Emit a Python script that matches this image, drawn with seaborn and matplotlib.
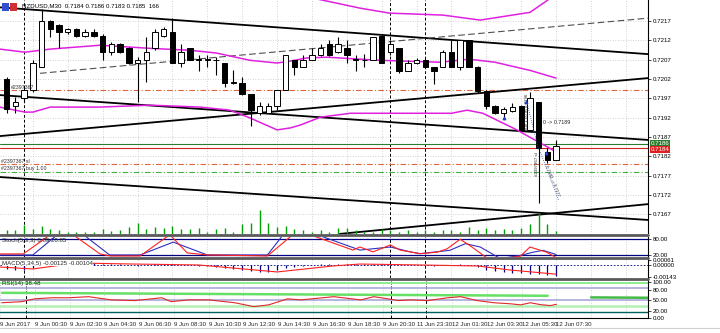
import matplotlib
matplotlib.use("Agg")
import matplotlib.pyplot as plt
import matplotlib.transforms as mtransforms
from matplotlib.lines import Line2D
from matplotlib.patches import Rectangle
import numpy as np
import seaborn as sns

sns.set_style("white")
plt.rcParams['font.family'] = ['Liberation Sans', 'DejaVu Sans']

# -------------------------------------------------------
# values (bar index 0 = 8 Jun 23:00)
opens = [0.72019, 0.71949, 0.71970, 0.71991, 0.72051, 0.72170, 0.72159, 0.72140, 0.72150, 0.72130,
         0.72140, 0.72130, 0.72090, 0.72109, 0.72099, 0.72060, 0.72070, 0.72099, 0.72130, 0.72140,
         0.72060, 0.72099, 0.72071, 0.72070, 0.72068, 0.72060, 0.72010, 0.72010, 0.71980, 0.71931,
         0.71931, 0.71949, 0.71991, 0.72070, 0.72051, 0.72070, 0.72081, 0.72109, 0.72090, 0.72099,
         0.72071, 0.72070, 0.72070, 0.72130, 0.72090, 0.72099, 0.72041, 0.72060, 0.72070, 0.72051,
         0.72051, 0.72090, 0.72051, 0.72120, 0.72051, 0.71989, 0.71950, 0.71931, 0.71937, 0.71950,
         0.71888, 0.71961, 0.71831, 0.71810]
highs = [0.72025, 0.71974, 0.72001, 0.72068, 0.72200, 0.72172, 0.72163, 0.72152, 0.72152, 0.72150,
         0.72150, 0.72135, 0.72116, 0.72113, 0.72103, 0.72077, 0.72129, 0.72150, 0.72154, 0.72177,
         0.72109, 0.72100, 0.72081, 0.72081, 0.72077, 0.72061, 0.72043, 0.72025, 0.71981, 0.71961,
         0.71958, 0.71991, 0.72081, 0.72070, 0.72081, 0.72099, 0.72110, 0.72120, 0.72129, 0.72120,
         0.72081, 0.72084, 0.72129, 0.72133, 0.72120, 0.72099, 0.72068, 0.72074, 0.72074, 0.72051,
         0.72094, 0.72120, 0.72120, 0.72120, 0.72053, 0.71991, 0.71952, 0.71948, 0.71957, 0.71952,
         0.71986, 0.71961, 0.71840, 0.71862]
lows = [0.71931, 0.71931, 0.71960, 0.71986, 0.72050, 0.72129, 0.72099, 0.72137, 0.72129, 0.72127,
        0.72127, 0.72068, 0.72081, 0.72087, 0.72058, 0.71961, 0.72012, 0.72094, 0.72128, 0.72060,
        0.72051, 0.72068, 0.72041, 0.72051, 0.72030, 0.72000, 0.72008, 0.71978, 0.71898, 0.71926,
        0.71931, 0.71939, 0.71991, 0.72030, 0.72050, 0.72068, 0.72079, 0.72079, 0.72087, 0.72060,
        0.72041, 0.72051, 0.72068, 0.72060, 0.72081, 0.72035, 0.72040, 0.72058, 0.72050, 0.72008,
        0.72050, 0.72050, 0.72043, 0.72050, 0.71983, 0.71942, 0.71929, 0.71922, 0.71935, 0.71885,
        0.71885, 0.71698, 0.71802, 0.71810]
closes = [0.71941, 0.71961, 0.71991, 0.72060, 0.72170, 0.72150, 0.72140, 0.72150, 0.72130, 0.72140,
          0.72130, 0.72090, 0.72109, 0.72090, 0.72060, 0.72070, 0.72090, 0.72140, 0.72150, 0.72060,
          0.72090, 0.72070, 0.72069, 0.72071, 0.72069, 0.72010, 0.72011, 0.71980, 0.71939, 0.71949,
          0.71949, 0.71991, 0.72081, 0.72051, 0.72070, 0.72081, 0.72099, 0.72081, 0.72109, 0.72081,
          0.72069, 0.72069, 0.72129, 0.72060, 0.72109, 0.72041, 0.72060, 0.72070, 0.72051, 0.72041,
          0.72090, 0.72051, 0.72120, 0.72051, 0.71989, 0.71950, 0.71931, 0.71941, 0.71948, 0.71888,
          0.71970, 0.71840, 0.71810, 0.71846]
volumes = [230, 230, 560, 300, 495, 300, 230, 130, 130, 130, 100, 300, 165, 230, 460, 725, 265, 460,
           365, 495, 300, 265, 365, 130, 265, 365, 130, 625, 660, 1520, 660, 460, 495, 265, 200, 130,
           200, 130, 395, 395, 200, 130, 130, 265, 200, 130, 200, 130, 200, 130, 200, 230, 130, 460,
           230, 330, 230, 265, 230, 330, 595, 1320, 595, 166]

# bollinger bands (bar index, price)
bb_mid_x = [-0.8, 2.1, 5.0, 10.7, 16.4, 21.0, 24.0, 27.9, 31.0, 32.5, 34.4, 36.7, 42.8, 49.7, 53.0, 56.0, 60.0, 63.0]
bb_mid = [0.72097, 0.72089, 0.72097, 0.72107, 0.72099, 0.72094, 0.72087, 0.72068, 0.72061, 0.72066,
          0.72074, 0.72076, 0.72068, 0.72063, 0.72071, 0.72063, 0.72042, 0.72022]
bb_low_x = [-0.8, 2.1, 3.0, 5.0, 10.7, 16.4, 22.2, 25.6, 27.9, 31.0, 32.5, 33.6, 36.0, 39.4, 51.0, 52.8,
            54.6, 58.5, 60.0, 62.0, 63.0]
bb_low = [0.71947, 0.71934, 0.71934, 0.71947, 0.71947, 0.71952, 0.71947, 0.71939, 0.71919, 0.71888,
          0.71893, 0.71900, 0.71921, 0.71931, 0.71931, 0.71939, 0.71931, 0.71888, 0.71869, 0.71844, 0.71831]
bb_up_x = [33.6, 37.4, 40.5, 43.9, 50.0, 54.3, 60.0, 62.0, 63.0]
bb_up = [0.72236, 0.72218, 0.72203, 0.72190, 0.72185, 0.72172, 0.72192, 0.72223, 0.72244]

# hand drawn trend lines (bar0, price0, bar1, price1)
trend_lines = [(-0.77, 0.72205, 73.54, 0.72084), (-0.77, 0.71872, 73.54, 0.72022),
               (-0.77, 0.71978, 73.54, 0.71862), (-0.77, 0.71766, 73.54, 0.71655),
               (38.2, 0.71619, 73.54, 0.71696)]
dashed_line = (2.67, 0.72032, 73.54, 0.72177)

# order lines
tp_level = 0.71991
sl_level = 0.71800
buy_level = 0.71780
ask_price = 0.71852
bid_price = 0.71840

# stochastic (5,3,3)
stoch_main_x = [-0.8, 1.9, 5.0, 7.6, 10.7, 11.9, 15.3, 18.7, 20.7, 23.0, 29.9, 32.8, 34.8, 37.4, 39.7, 40.5,
                42.0, 44.0, 45.1, 47.4, 49.4, 50.5, 52.0, 53.1, 55.0, 56.9, 58.9, 60.0, 61.9, 63.0]
stoch_main = [23, 23, 98, 98, 23, 15, 15, 98, 27, 19, 15, 98, 98, 66, 38, 50, 31, 58, 38, 24, 30, 43, 80,
              56, 9, 5, 14, 50, 30, 8.89]
stoch_sig_x = [-0.8, 3.0, 5.8, 8.8, 11.8, 15.3, 19.1, 23.0, 29.9, 31.7, 35.6, 40.5, 44.0, 46.3, 47.4,
               50.8, 52.6, 54.3, 56.6, 58.9, 60.4, 61.5, 63.0]
stoch_sig = [19, 19, 98, 98, 19, 19, 69, 19, 19, 98, 98, 38, 50, 31, 24, 37, 63, 50, 5, 17, 30, 37, 20.85]

# MACD(5,34,5): histogram per bar, signal line points
macd_main = [-0.0004, -0.0005, -0.0005, -0.0003, 0.0001, 0.0003, 0.0004, 0.0004, 0.0004, 0.0003,
             0.0003, 0.0002, 0.0001, 0.0001, 0.0000, -0.0001, 0.0000, 0.0001, 0.0001, 0.0001,
             0.0000, 0.0000, -0.0001, -0.0001, -0.0002, -0.0003, -0.0004, -0.0005, -0.0007, -0.0008,
             -0.0008, -0.0006, -0.0003, -0.0002, -0.0001, 0.0000, 0.0001, 0.0002, 0.0002, 0.0002,
             0.0001, 0.0001, 0.0002, 0.0001, 0.0001, 0.0000, 0.0000, 0.0000, 0.0000, -0.0001,
             0.0000, 0.0000, 0.0001, 0.0000, -0.0002, -0.0005, -0.0007, -0.0008, -0.0009, -0.0009,
             -0.0010, -0.0010, -0.0011, -0.00125]
macd_sig_x = [-0.8, 3.0, 8.0, 14.5, 22.0, 31.0, 37.4, 40.5, 47.4, 54.0, 57.7, 63.0]
macd_sig = [-0.0002, -0.00043, 0.00027, 0.00015, 0.00004, -0.00078, -0.00008, 0.00015, 0.00004,
            -0.00008, -0.00055, -0.00104]

# RSI(14)
rsi_x = [-0.8, 1.5, 3.0, 5.0, 6.9, 9.2, 11.8, 14.5, 17.6, 18.7, 20.7, 23.0, 26.0, 28.2, 29.9, 32.1, 33.6,
         37.4, 40.5, 42.0, 43.6, 44.8, 46.3, 48.2, 50.5, 52.0, 53.9, 55.8, 57.7, 58.9, 60.0, 61.2, 62.3, 63.0]
rsi = [43, 46, 54, 57, 57, 60, 51, 49, 57, 46, 51, 51, 43, 32, 37, 54, 51, 60, 51, 60, 54, 49, 51, 49, 57,
       60, 49, 43, 40, 37, 43, 37.5, 35, 38.48]

# time axis labels
tick_bars = [-1, 3, 7, 11, 15, 19, 23, 27, 31, 35, 39, 43, 47, 51, 55, 59, 63]
tick_labels = ['9 Jun 2017', '9 Jun 00:30', '9 Jun 02:30', '9 Jun 04:30', '9 Jun 06:30', '9 Jun 08:30',
               '9 Jun 10:30', '9 Jun 12:30', '9 Jun 14:30', '9 Jun 16:30', '9 Jun 18:30', '9 Jun 20:30',
               '11 Jun 23:30', '12 Jun 01:30', '12 Jun 03:30', '12 Jun 05:30', '12 Jun 07:30']
separator_bars = [2, 44, 48]
price_ticks = [0.7167, 0.7172, 0.7177, 0.7182, 0.7187, 0.7192, 0.7197, 0.7202, 0.7207, 0.7212, 0.7217]

# -------------------------------------------------------
W, H = 720, 333
fig = plt.figure(figsize=(W / 100, H / 100), dpi=100)
fig.patch.set_facecolor('white')

XL = (-0.77, 73.54)
FS = 4.4
grid_kw = dict(color='#c4c4c4', lw=0.6, ls=(0, (1, 2)), zorder=0)


def make_ax(top, bottom):
    a = fig.add_axes([0, 1 - bottom / H, 648 / W, (bottom - top) / H])
    a.set_xlim(*XL)
    for s in ['left', 'top', 'bottom']:
        a.spines[s].set_visible(False)
    a.spines['right'].set_color('black')
    a.spines['right'].set_linewidth(0.8)
    a.set_xticks([])
    for b in range(-1, 75, 4):
        a.axvline(b, **grid_kw)
    for b in separator_bars:
        a.axvline(b, color='black', lw=0.7, ls=(0, (3, 2)), zorder=1)
    return a


def right_ticks(a):
    a.yaxis.tick_right()
    a.tick_params(axis='y', labelsize=FS, length=2, width=0.5, pad=1.5, colors='black')


ax = make_ax(0, 233.5)
ax_st = make_ax(236.5, 257)
ax_md = make_ax(259, 278)
ax_rsi = make_ax(280, 318)

# ---------------- main price panel ----------------
ax.set_ylim(0.71620, 0.72224)
for p in price_ticks:
    ax.axhline(p, **grid_kw)

# volumes on a hidden twin axis
axv = ax.twinx()
axv.set_ylim(0, 15400)
axv.axis('off')
axv.vlines(np.arange(len(volumes)), 0, volumes, color='#00a000', lw=1.0)

ax.set_yticks(price_ticks)
ax.set_yticklabels([f'{p:.4f}' for p in price_ticks])
right_ticks(ax)

# trend lines
for x0, y0, x1, y1 in trend_lines:
    ax.plot([x0, x1], [y0, y1], color='black', lw=1.3, zorder=2)
ax.plot(dashed_line[::2], dashed_line[1::2], color='#505050', lw=0.8, ls=(0, (6, 3)), zorder=2)

# order lines
ax.axhline(tp_level, color='#e0643c', lw=0.8, ls=(0, (5, 2, 1, 2)), zorder=1)
ax.axhline(sl_level, color='#e0643c', lw=0.8, ls=(0, (5, 2, 1, 2)), zorder=1)
ax.axhline(buy_level, color='#40b040', lw=0.8, ls=(0, (5, 2, 1, 2)), zorder=1)
ax.axhline(ask_price, color='#2e7d2e', lw=0.8, zorder=1)
ax.axhline(bid_price, color='#d02020', lw=0.8, zorder=1)

# bollinger bands
for bx, by in [(bb_up_x, bb_up), (bb_mid_x, bb_mid), (bb_low_x, bb_low)]:
    sns.lineplot(x=bx, y=by, ax=ax, color='#e020e0', lw=1.1, zorder=2)

# candles
idx = np.arange(len(opens))
o, c = np.array(opens), np.array(closes)
up = c >= o
ax.vlines(idx, lows, highs, color='black', lw=0.8, zorder=3)
ax.bar(idx, np.abs(c - o), bottom=np.minimum(o, c), width=0.62,
       color=np.where(up, 'white', 'black'), edgecolor='black', lw=0.7, zorder=4)

# order labels and trade annotations
ax.text(0.5, tp_level + 0.00003, '#2397367', fontsize=3.8, color='#303030', zorder=5)
ax.text(-0.6, sl_level + 0.00003, '#2397367 sl', fontsize=3.8, color='#303030')
ax.text(-0.6, buy_level + 0.00003, '#2397367 buy 1.00', fontsize=3.8, color='#303030')
ax.text(61.5, 0.71903, '0 -> 0.7189', fontsize=3.8, color='#202020', zorder=6)
ax.text(59.7, 0.71935, 'buy 1.00 at 0.7196', rotation=90, fontsize=3.2, ha='center', va='center', zorder=6)
ax.text(60.8, 0.71800, '#2397367 sl', rotation=90, fontsize=3.2, ha='center', va='center', zorder=6)
ax.text(62.6, 0.71755, '0.7182 -> 0.7177', rotation=-68, fontsize=3.2, ha='center', va='center', zorder=6)
ax.plot([61.2, 63.3], [0.71830, 0.71705], color='#3050c0', lw=0.6, ls=(0, (1, 1.5)), zorder=5)
ax.plot([59.7, 61.0], [0.71955, 0.71835], color='#3050c0', lw=0.6, ls=(0, (1, 1.5)), zorder=5)
ax.scatter([57.0, 59.6, 61.9], [0.71920, 0.71960, 0.71828], s=3, color='#2040c0', zorder=6, marker='^')

# ask / bid boxes on the price scale
blend = mtransforms.blended_transform_factory(ax.transAxes, ax.transData)
ax.text(1.004, ask_price + 0.00002, '0.7186', transform=blend, fontsize=FS, color='white', va='center',
        bbox=dict(boxstyle='square,pad=0.1', fc='#2e7d2e', ec='none'), clip_on=False, zorder=10)
ax.text(1.004, bid_price - 0.00003, '0.7184', transform=blend, fontsize=FS, color='white', va='center',
        bbox=dict(boxstyle='square,pad=0.1', fc='#e02020', ec='none'), clip_on=False, zorder=10)

ax.text(22 / 648, 1 - 6 / 233.5, 'NZDUSD,M30  0.7184 0.7186 0.7183 0.7185  166', transform=ax.transAxes,
        fontsize=FS, va='center', color='black')
fig.add_artist(Rectangle((2 / W, 1 - 11 / H), 7 / W, 8 / H, transform=fig.transFigure, fc='#3050d0', ec='none'))
fig.add_artist(Rectangle((10 / W, 1 - 11 / H), 7 / W, 8 / H, transform=fig.transFigure, fc='#d03030', ec='none'))

# ---------------- stochastic ----------------
ax_st.set_ylim(11, 91)
ax_st.axhline(80, color='#000080', lw=0.9)
ax_st.axhline(20, color='#000080', lw=0.9)
sns.lineplot(x=stoch_sig_x, y=stoch_sig, ax=ax_st, color='#3030c0', lw=0.8)
sns.lineplot(x=stoch_main_x, y=stoch_main, ax=ax_st, color='#ff2020', lw=0.8)
ax_st.set_yticks([80, 20])
ax_st.set_yticklabels(['80.00', '20.00'])
right_ticks(ax_st)
ax_st.text(0.003, 0.82, 'Stoch(5,3,3) 8.89 20.85', transform=ax_st.transAxes, fontsize=FS, va='center')

# ---------------- MACD ----------------
ax_md.set_ylim(-0.00149, 0.00074)
ax_md.axhline(0, color='#000080', lw=0.6, ls=(0, (2, 2)))
ax_md.vlines(idx, 0, macd_main, color='#000080', lw=0.9)
sns.lineplot(x=macd_sig_x, y=macd_sig, ax=ax_md, color='#ff2020', lw=0.8)
ax_md.set_yticks([0.00061, 0.0, -0.00143])
ax_md.set_yticklabels(['0.00061', '0.00000', '-0.00143'])
right_ticks(ax_md)
ax_md.text(0.003, 0.78, 'MACD(5,34,5) -0.00125 -0.00104', transform=ax_md.transAxes, fontsize=FS,
           va='center', bbox=dict(fc='white', ec='none', pad=0.3))

# ---------------- RSI ----------------
ax_rsi.set_ylim(1.4, 107)
ax_rsi.axhline(98.7, color='#90ee90', lw=1.4)
ax_rsi.axhline(85.6, color='#a8a8d8', lw=1.2)
ax_rsi.plot([-0.77, 62.0], [70.9, 62.6], color='#66e066', lw=1.8)
ax_rsi.plot([67.0, 73.54], [58.0, 57.0], color='#44bb44', lw=1.8)
ax_rsi.axhline(50.6, color='#a8a8d8', lw=1.2)
ax_rsi.axhline(34.8, color='#b4f0b4', lw=1.8)
ax_rsi.axhline(18.0, color='#006060', lw=1.0)
sns.lineplot(x=rsi_x, y=rsi, ax=ax_rsi, color='#e02828', lw=0.8)
ax_rsi.set_yticks([100, 80, 50, 20, 0])
ax_rsi.set_yticklabels(['100.00', '80.00', '50.00', '20.00', '0.00'])
right_ticks(ax_rsi)
ax_rsi.text(0.003, 0.9, 'RSI(14) 38.48', transform=ax_rsi.transAxes, fontsize=FS, va='center')
ax_rsi.set_xticks(tick_bars)
ax_rsi.set_xticklabels(tick_labels, ha='left')
ax_rsi.tick_params(axis='x', labelsize=FS, length=2, width=0.5, pad=1)
ax_rsi.spines['bottom'].set_visible(True)
ax_rsi.spines['bottom'].set_color('black')
ax_rsi.spines['bottom'].set_linewidth(0.8)

for a in [ax, ax_st, ax_md, ax_rsi]:
    a.set_xlabel('')
    a.set_ylabel('')

# panel separators
for ysep in [235, 258, 279]:
    fig.add_artist(Line2D([0, 648 / W], [1 - ysep / H] * 2, transform=fig.transFigure,
                          color='#5a5a5a', lw=2.0))
fig.add_artist(Line2D([0, 1], [1 - 328 / H] * 2, transform=fig.transFigure, color='#d0d0d0', lw=0.8))

plt.savefig('out.png', dpi=100)
